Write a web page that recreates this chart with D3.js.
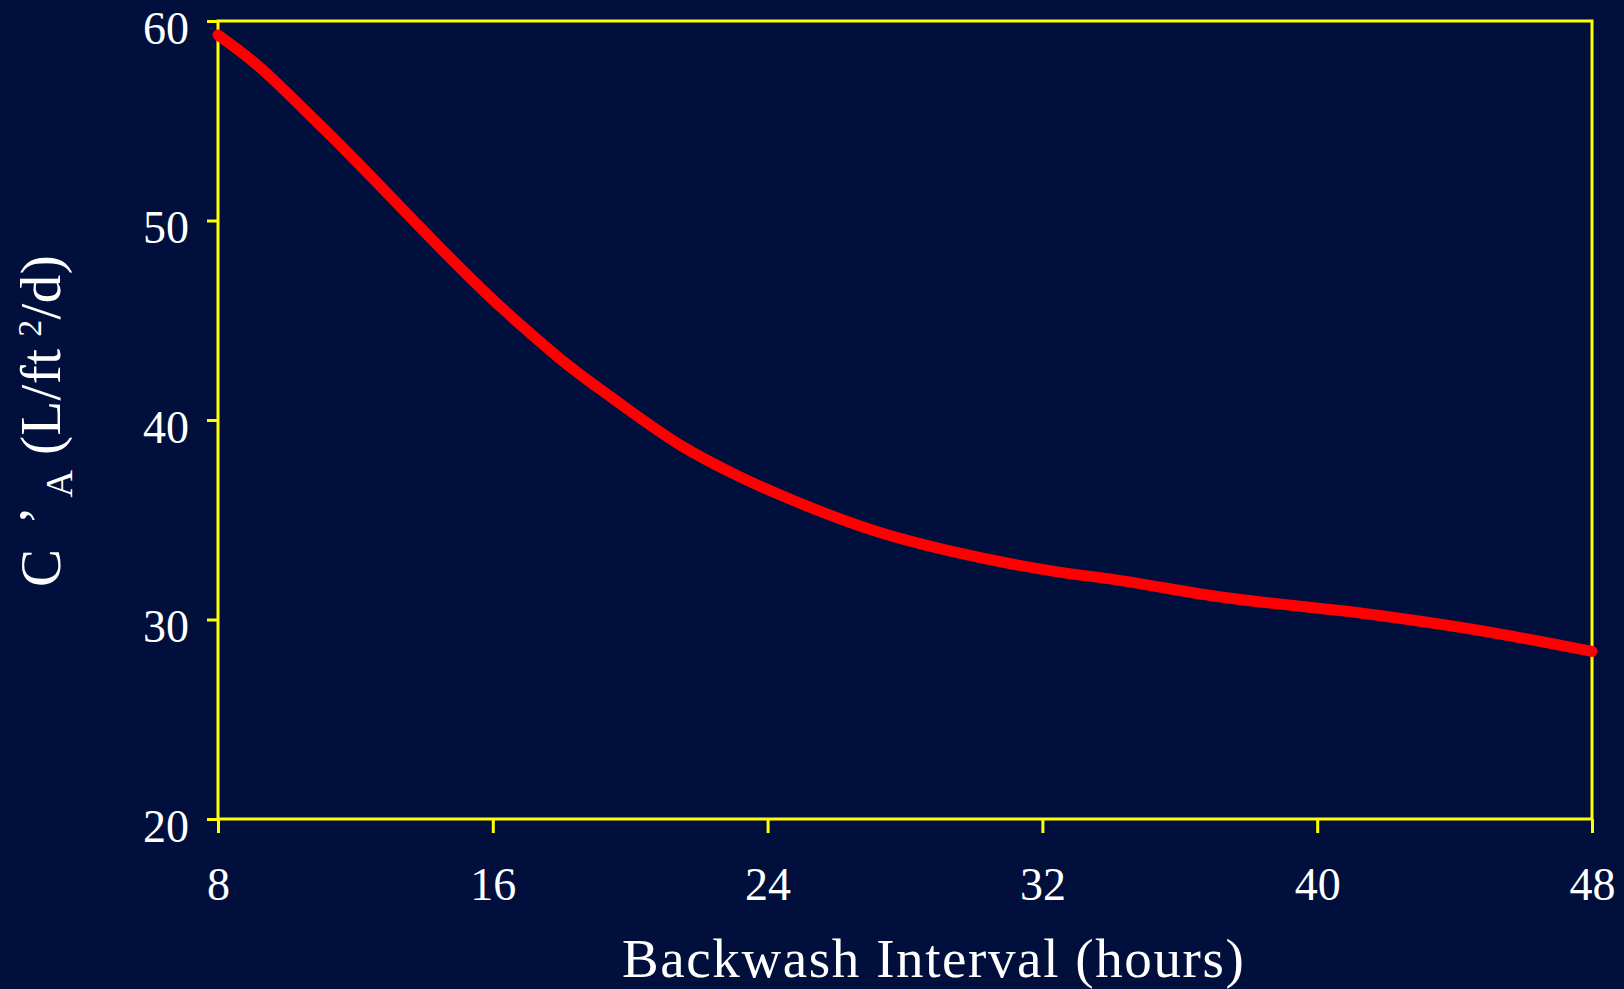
<!DOCTYPE html>
<html>
<head>
<meta charset="utf-8">
<script src="https://cdn.jsdelivr.net/npm/d3@7/dist/d3.min.js"></script>
<style>
  html, body { margin: 0; padding: 0; background: #000f3c; }
  svg { display: block; }
  text { font-family: "Liberation Serif", "Times New Roman", serif; fill: #ffffff; }
</style>
</head>
<body>
<svg id="chart" width="1624" height="989"></svg>
<script>
// Data
const hours  = [8, 9, 10.9, 16.4, 18.3, 19.4, 21.5, 22.9, 24.7, 27.2, 29.4, 32.4, 34.1, 37.1, 41.6, 44.9, 48];
const values = [59.3, 58.0, 54.9, 45.4, 42.6, 41.2, 38.7, 37.4, 36.0, 34.4, 33.4, 32.4, 32.0, 31.15, 30.25, 29.4, 28.4];
const xTicks = [8, 16, 24, 32, 40, 48];
const yTicks = [20, 30, 40, 50, 60];
const xTitle = "Backwash Interval (hours)";

(function () {
const svg = d3.select("#chart");
const W = 1624, H = 989;
svg.append("rect").attr("width", W).attr("height", H).attr("fill", "#000f3c");

const pLeft = 218, pRight = 1592, pTop = 21, pBottom = 819;
const x = d3.scaleLinear().domain([8, 48]).range([pLeft, pRight]);
const y = d3.scaleLinear().domain([20, 60]).range([pBottom, pTop]);

const yellow = "#ffff00";

// Axes
const gx = svg.append("g").attr("transform", `translate(0,${pBottom})`)
  .call(d3.axisBottom(x).tickValues(xTicks).tickSize(14).tickPadding(0).tickFormat(d3.format("d")));
gx.select(".domain").remove();
gx.selectAll(".tick line").attr("stroke", yellow).attr("stroke-width", 3);
gx.selectAll(".tick text").attr("fill", "#fff").attr("font-size", 46)
  .attr("font-family", "Liberation Serif, serif").attr("dy", null).attr("y", 81);

const gy = svg.append("g").attr("transform", `translate(${pLeft},0)`)
  .call(d3.axisLeft(y).tickValues(yTicks).tickSize(11).tickPadding(0).tickFormat(d3.format("d")));
gy.select(".domain").remove();
gy.selectAll(".tick line").attr("stroke", yellow).attr("stroke-width", 3);
gy.selectAll(".tick text").attr("fill", "#fff").attr("font-size", 46)
  .attr("font-family", "Liberation Serif, serif").attr("x", -29).attr("dy", null).attr("y", 22);

// Frame
svg.append("rect")
  .attr("x", pLeft).attr("y", pTop)
  .attr("width", pRight - pLeft).attr("height", pBottom - pTop)
  .attr("fill", "none").attr("stroke", yellow).attr("stroke-width", 3);

// Curve
const pts = hours.map((h, i) => [h, values[i]]);
svg.append("path")
  .datum(pts)
  .attr("fill", "none")
  .attr("stroke", "#ff0000")
  .attr("stroke-width", 11)
  .attr("stroke-linecap", "round")
  .attr("stroke-linejoin", "round")
  .attr("d", d3.line().curve(d3.curveMonotoneX).x(d => x(d[0])).y(d => y(d[1])));

// X title
svg.append("text")
  .attr("x", 622).attr("y", 977)
  .attr("font-size", 55)
  .attr("letter-spacing", 1.6)
  .text(xTitle);

// Y title (rotated)
const yt = svg.append("text")
  .attr("transform", "translate(60,587) rotate(-90)")
  .attr("font-size", 57)
  .attr("letter-spacing", 0.4);
yt.append("tspan").text("C\u2009\u2009");
yt.append("tspan").attr("dy", -2).text("\u2019");
yt.append("tspan").attr("font-size", 38).attr("dy", 14).attr("dx", 8).text("A");
yt.append("tspan").attr("dy", -12).text(" (L/ft\u2009");
yt.append("tspan").attr("font-size", 34).attr("dy", -19).text("2");
yt.append("tspan").attr("dy", 19).text("/d)");
})();
</script>
</body>
</html>
